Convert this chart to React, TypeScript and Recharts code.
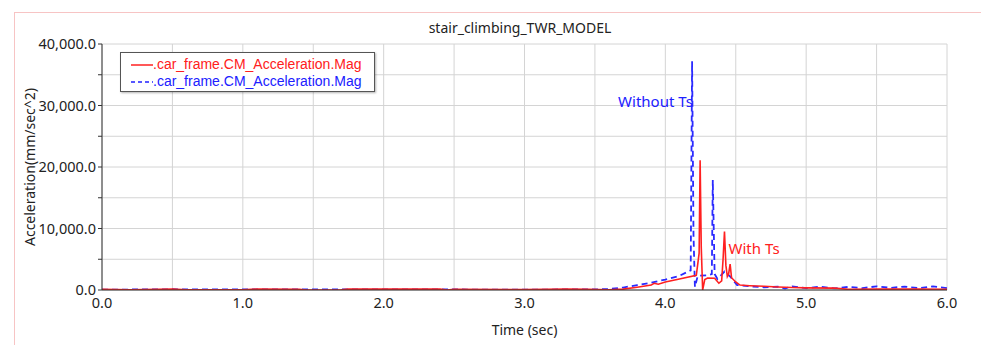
import React from 'react';
import {
  LineChart,
  Line,
  XAxis,
  YAxis,
  CartesianGrid,
  ReferenceDot,
} from 'recharts';

// time ticks (grid every 0.5 s, labels on whole seconds)
const xTicks = [0, 0.5, 1, 1.5, 2, 2.5, 3, 3.5, 4, 4.5, 5, 5.5, 6];
const yTicks = [0, 5000, 10000, 15000, 20000, 25000, 30000, 35000, 40000];

// With Ts (red, solid)
const redTime = [
  0, 0.2, 0.5, 0.6, 1.0, 1.1, 1.4, 1.45, 1.7, 1.75, 2.4, 2.45, 2.5, 3.0, 3.3, 3.45, 3.6, 3.7,
  3.8, 3.9, 3.92, 3.95, 4.0, 4.1, 4.22, 4.24, 4.247, 4.255, 4.265, 4.28, 4.3, 4.35, 4.38, 4.4,
  4.41, 4.42, 4.43, 4.44, 4.45, 4.46, 4.47, 4.5, 4.53, 4.6, 4.7, 4.8, 4.9, 5.0, 5.2, 5.3, 5.5,
  5.8, 6.0,
];
const redAcc = [
  100, 50, 150, 30, 50, 150, 120, 0, 20, 150, 150, 0, 100, 80, 150, 100, 50, 150,
  450, 800, 1100, 950, 1300, 1800, 2400, 6000, 21100, 7000, 0, 1700, 1950, 1900, 1100, 1500,
  5000, 9500, 4000, 2200, 2700, 4200, 2000, 1300, 800, 700, 600, 500, 400, 350, 300, 100, 150,
  150, 100,
];

// Without Ts (blue, dashed)
const blueTime = [
  0, 0.5, 1.0, 1.5, 2.0, 2.5, 3.0, 3.5, 3.6, 3.7, 3.8, 3.9, 4.0, 4.1, 4.18, 4.185, 4.19, 4.2,
  4.21, 4.23, 4.3, 4.33, 4.337, 4.35, 4.37, 4.4, 4.42, 4.46, 4.51, 4.6, 4.7, 4.8, 4.85, 4.9,
  5.0, 5.1, 5.2, 5.3, 5.4, 5.5, 5.6, 5.7, 5.8, 5.9, 6.0,
];
const blueAcc = [
  50, 120, 80, 100, 100, 80, 60, 100, 150, 400, 800, 1200, 1700, 2300, 3200, 20000, 37200, 9000,
  500, 2300, 2400, 2600, 17900, 2600, 1800, 2500, 3000, 2200, 800, 600, 450, 550, 250, 600,
  300, 550, 250, 500, 300, 600, 350, 550, 300, 600, 300,
];

const redData = redTime.map((t, i) => ({ t, v: redAcc[i] }));
const blueData = blueTime.map((t, i) => ({ t, v: blueAcc[i] }));

const tickFont = { fontSize: 14.5, fill: '#222', fontFamily: 'Noto Sans' };

const fmtY = (v: number) =>
  v % 10000 === 0 ? v.toLocaleString('en-US', { minimumFractionDigits: 1 }) : '';
const fmtX = (v: number) => (Number.isInteger(v) ? v.toFixed(1) : '');

const LegendBox = () => (
  <div
    style={{
      position: 'absolute',
      left: 120,
      top: 52,
      width: 255,
      height: 40,
      border: '1px solid #555',
      background: '#fff',
      boxShadow: '1px 1px 2px rgba(0,0,0,0.3)',
      fontFamily: 'Liberation Sans, Arial',
      fontSize: 14,
      lineHeight: '17px',
      padding: '3px 0 0 10px',
      boxSizing: 'border-box',
    }}
  >
    <div style={{ color: '#ff2020', display: 'flex', alignItems: 'center' }}>
      <svg width={22} height={10}>
        <line x1={0} y1={5} x2={22} y2={5} stroke="#ff2020" strokeWidth={1.5} />
      </svg>
      .car_frame.CM_Acceleration.Mag
    </div>
    <div style={{ color: '#2020ff', display: 'flex', alignItems: 'center' }}>
      <svg width={22} height={10}>
        <line x1={0} y1={5} x2={22} y2={5} stroke="#2020ff" strokeWidth={1.5} strokeDasharray="4 3" />
      </svg>
      .car_frame.CM_Acceleration.Mag
    </div>
  </div>
);

const App: React.FC = () => {
  return (
    <div style={{ position: 'absolute', left: 0, top: 0, width: 981, height: 345, background: '#fff', overflow: 'hidden' }}>
      <div
        style={{
          position: 'absolute',
          left: 14,
          top: 12,
          width: 990,
          height: 360,
          border: '1px solid #f7c4c4',
        }}
      />
      <div
        style={{
          position: 'absolute',
          left: 0,
          top: 18,
          width: 1040,
          textAlign: 'center',
          fontFamily: 'Noto Sans',
          fontSize: 14,
          color: '#222',
        }}
      >
        stair_climbing_TWR_MODEL
      </div>
      <div style={{ position: 'absolute', left: 0, top: 0 }}>
        <LineChart width={981} height={345} margin={{ top: 44, right: 34, bottom: 0, left: 0 }}>
          <CartesianGrid stroke="#d4d4d4" strokeWidth={1} />
          <XAxis
            dataKey="t"
            type="number"
            domain={[0, 6]}
            ticks={xTicks}
            interval={0}
            tickFormatter={fmtX}
            tick={tickFont}
            tickLine={false}
            axisLine={{ stroke: '#333' }}
            height={55}
            allowDataOverflow
            label={{
              value: 'Time (sec)',
              position: 'insideBottom',
              offset: 10,
              style: { fontSize: 14, fill: '#222', fontFamily: 'Noto Sans' },
            }}
          />
          <YAxis
            type="number"
            domain={[0, 40000]}
            ticks={yTicks}
            interval={0}
            tickFormatter={fmtY}
            tick={tickFont}
            tickSize={4}
            tickLine={{ stroke: '#333' }}
            axisLine={{ stroke: '#333' }}
            width={102}
            allowDataOverflow
            label={{
              value: 'Acceleration(mm/sec^2)',
              angle: -90,
              position: 'insideLeft',
              offset: 30,
              style: { textAnchor: 'middle', fontSize: 14, fill: '#222', fontFamily: 'Noto Sans' },
            }}
          />
          <Line
            data={blueData}
            dataKey="v"
            name="Without Ts"
            type="linear"
            stroke="#2a2aff"
            strokeWidth={1.8}
            strokeDasharray="6 4"
            dot={false}
            isAnimationActive={false}
          />
          <Line
            data={redData}
            dataKey="v"
            name="With Ts"
            type="linear"
            stroke="#ff2020"
            strokeWidth={1.6}
            dot={false}
            isAnimationActive={false}
          />
          <ReferenceDot
            x={3.93}
            y={30700}
            r={0}
            fill="none"
            stroke="none"
            label={{
              value: 'Without Ts',
              position: 'center',
              style: { fontSize: 15, fill: '#2020ff', fontFamily: 'Noto Sans' },
            }}
          />
          <ReferenceDot
            x={4.63}
            y={6800}
            r={0}
            fill="none"
            stroke="none"
            label={{
              value: 'With Ts',
              position: 'center',
              style: { fontSize: 15, fill: '#ff2020', fontFamily: 'Noto Sans' },
            }}
          />
        </LineChart>
      </div>
      <LegendBox />
    </div>
  );
};

export default App;
